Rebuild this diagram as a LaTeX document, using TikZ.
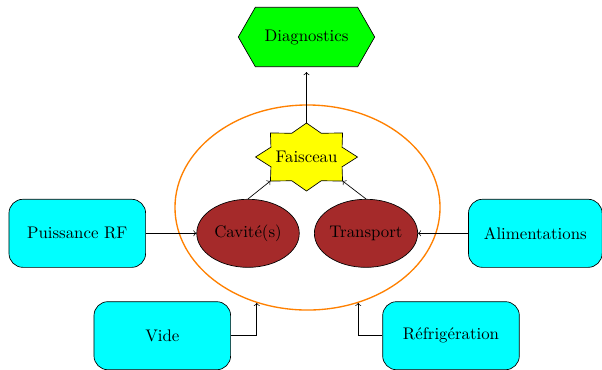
\documentclass[tikz,border=0pt]{standalone}
\usetikzlibrary{shapes.geometric}
\definecolor{brownred}{RGB}{165,42,42}
\definecolor{boxcyan}{RGB}{0,255,255}
\definecolor{hexgreen}{RGB}{0,255,0}
\definecolor{staryellow}{RGB}{255,255,0}
\definecolor{ringorange}{RGB}{255,128,0}
\begin{document}
\begin{tikzpicture}[x=0.595pt,y=-0.595pt,
  box/.style={draw, fill=boxcyan, rounded corners=8.3pt, minimum width=81.3pt, minimum height=40.5pt},
  oval/.style={draw, ellipse, fill=brownred, minimum width=61pt, minimum height=40.5pt, inner sep=0pt},
  hexa/.style={draw, fill=hexgreen},
  starsty/.style={draw, fill=staryellow},
  conn/.style={->}]
\useasboundingbox (0,0) rectangle (602,369);
% system ellipse
\node[draw=ringorange, thick, ellipse, minimum width=157.7pt, minimum height=122pt] (sys) at (307.5,207.5) {};
% diagnostics hexagon
\draw[hexa] (238.3,37) -- (255.3,7.3) -- (357.7,7.3) -- (374.7,37) -- (357.7,66.7) -- (255.3,66.7) -- cycle;
\node[minimum height=35.3pt, minimum width=81pt] (diag) at (306.5,37) {Diagnostics};
% star
\draw[starsty, shift={(306.5,157)}] (0:51 and 34)
  \foreach \i [evaluate=\i as \a using \i*22.5, evaluate=\i as \rx using {mod(\i,2)==0 ? 51 : 38.5}, evaluate=\i as \ry using {mod(\i,2)==0 ? 34 : 25.7}] in {1,...,15} { -- ({\a}:{\rx} and {\ry}) } -- cycle;
\node (fa) at (306.5,157) {Faisceau};
\coordinate (fa-n) at (306.5,123);
\coordinate (fa-sw) at (270.4,181);
\coordinate (fa-se) at (342.6,181);
% inner nodes
\node[oval] (cav) at (248,233.3) {Cavit\'e(s)};
\node[oval] (tr) at (366,233.3) {Transport};
% outer boxes
\node[box] (rf) at (77.3,233.3) {Puissance RF};
\node[box, minimum width=79.5pt] (alim) at (535.3,233.3) {Alimentations};
\node[box] (vide) at (162.3,335.7) {Vide};
\node[box] (refr) at (451,335.7) {R\'efrig\'eration};
% connectors
\draw[conn] (cav.north) -- (fa-sw);
\draw[conn] (tr.north) -- (fa-se);
\draw[conn, shorten >=3pt] (fa-n) -- (diag.south);
\draw[conn] (rf.east) -- (cav.west);
\draw[conn] (alim.west) -- (tr.east);
\draw[conn] (vide.east) -| (sys.-118.6);
\draw[conn] (refr.west) -| (sys.-62.3);
\end{tikzpicture}
\end{document}
